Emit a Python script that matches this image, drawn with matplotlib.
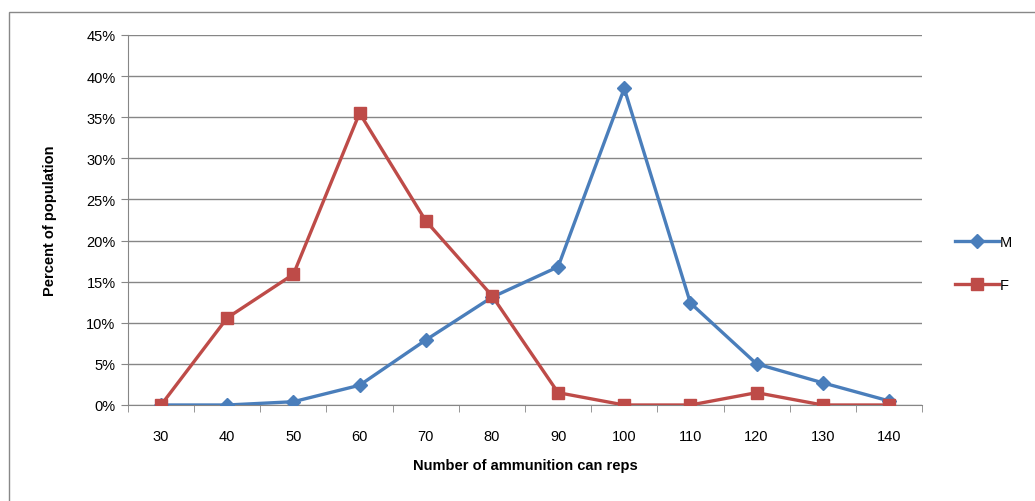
import matplotlib
matplotlib.use("Agg")
import matplotlib.pyplot as plt
import numpy as np
from matplotlib.patches import Rectangle
from matplotlib.ticker import FuncFormatter

plt.rcParams['font.family'] = ['Liberation Sans', 'DejaVu Sans']

reps = [30, 40, 50, 60, 70, 80, 90, 100, 110, 120, 130, 140]
male = [0.0, 0.0, 0.4, 2.4, 7.9, 13.1, 16.8, 38.5, 12.4, 5.0, 2.7, 0.5]
female = [0.0, 10.6, 15.9, 35.5, 22.4, 13.3, 1.5, 0.0, 0.0, 1.5, 0.0, 0.0]

fig = plt.figure(figsize=(10.35, 5.02), dpi=100)
ax = fig.add_axes([128 / 1035, 96 / 502, 794 / 1035, 370 / 502])

# outer chart border
fig.patches.append(Rectangle((9 / 1035, -0.01), 1.1, 0.985, transform=fig.transFigure,
                             fill=False, edgecolor='#888888', linewidth=1))

x = np.arange(len(reps))
ax.plot(x, male, color='#4A7EBB', lw=2.4, marker='D', markersize=7, label='M', zorder=3)
ax.plot(x, female, color='#BE4B48', lw=2.4, marker='s', markersize=8.5, label='F', zorder=3)

ax.set_xlim(-0.5, len(reps) - 0.5)
ax.set_ylim(0, 45)
ax.set_yticks(np.arange(0, 46, 5))
ax.yaxis.set_major_formatter(FuncFormatter(lambda v, p: '%d%%' % v))
ax.set_xticks(x)
ax.set_xticklabels([str(r) for r in reps])
ax.set_xticks(np.arange(-0.5, len(reps)), minor=True)
ax.tick_params(axis='x', which='major', length=0, pad=17, labelsize=10.5)
ax.tick_params(axis='x', which='minor', length=5, color='#868686')
ax.tick_params(axis='y', length=5, color='#868686', labelsize=10.5, pad=4)

ax.grid(axis='y', color='#868686', lw=1)
ax.set_axisbelow(True)
for s in ['top', 'right']:
    ax.spines[s].set_visible(False)
ax.spines['left'].set_color('#868686')
ax.spines['bottom'].set_color('#868686')

ax.set_xlabel('Number of ammunition can reps', fontweight='bold', fontsize=10.5, labelpad=11)
ax.set_ylabel('Percent of population', fontweight='bold', fontsize=10.5, labelpad=21)

ax.legend(loc='center left', bbox_to_anchor=(1.025, 0.382), frameon=False, fontsize=10.5,
          handlelength=3, labelspacing=2.0, handletextpad=0.1)

fig.savefig('out.png', dpi=100)
